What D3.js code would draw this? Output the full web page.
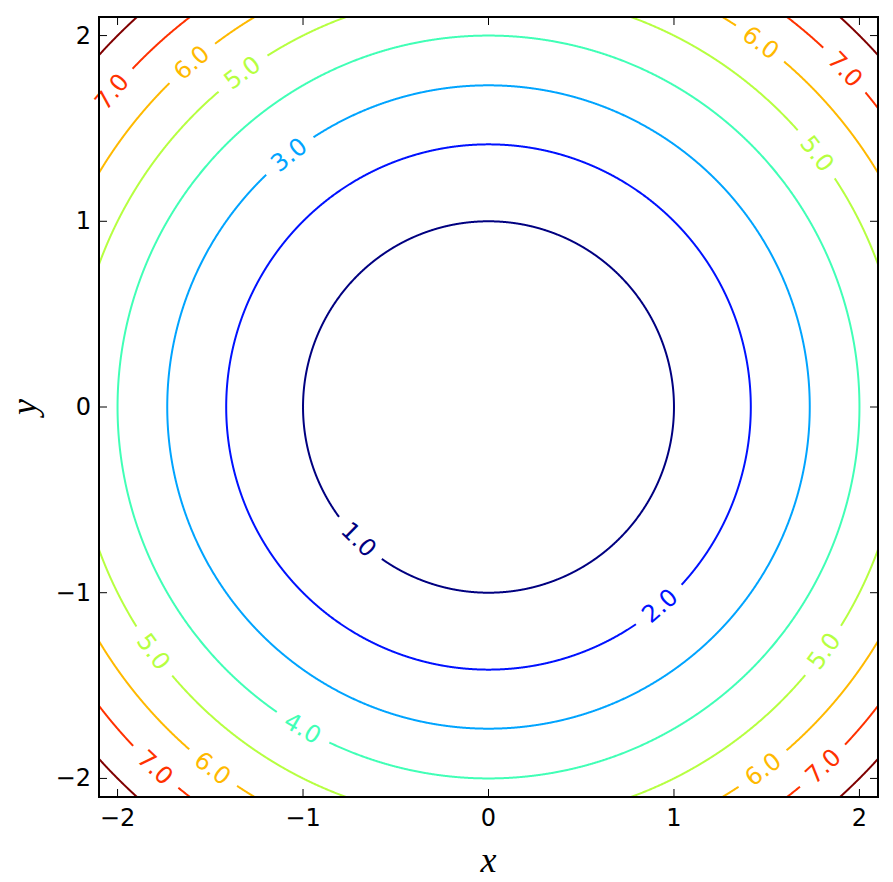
<!DOCTYPE html>
<html><head><meta charset="utf-8">
<script src="https://cdn.jsdelivr.net/npm/d3@7"></script>
<style>body{margin:0;background:#fff}</style>
</head><body>
<svg id="chart" width="893" height="882"></svg>
<script>
// ---- data ----
const levels = [1, 2, 3, 4, 5, 6, 7, 8];            // contour levels of z = x^2 + y^2
const labelLevels = [1, 2, 3, 4, 5, 5, 5, 5, 6, 6, 6, 6, 7, 7, 7, 7];
const labelAngles = [225.6, -49.2, 128.4, 239.9, 126.4, 37.6, 216.1, -36, 130.8, 53.2, 232.6, -52.8, 140.1, 43.4, 227.2, -47]; // degrees
const xTicks = [-2, -1, 0, 1, 2];
const yTicks = [-2, -1, 0, 1, 2];
const domain = [-2.1, 2.1];

// ---- layout ----
const svg = d3.select("#chart");
const L = 99, R = 878, T = 17, B = 797;
const x = d3.scaleLinear().domain(domain).range([L, R]);
const y = d3.scaleLinear().domain(domain).range([B, T]);

// jet colormap
const jet = (t) => {
  const interp = (pts) => d3.scaleLinear().domain(pts.map(p => p[0])).range(pts.map(p => p[1])).clamp(true)(t);
  const r = interp([[0, 0], [0.35, 0], [0.66, 1], [0.89, 1], [1, 0.5]]);
  const g = interp([[0, 0], [0.125, 0], [0.375, 1], [0.64, 1], [0.91, 0], [1, 0]]);
  const b = interp([[0, 0.5], [0.11, 1], [0.34, 1], [0.65, 0], [1, 0]]);
  return d3.rgb(r * 255, g * 255, b * 255).toString();
};
const norm = d3.scaleLinear().domain(d3.extent(levels)).range([0, 1]);
const color = (lv) => jet(norm(lv));

svg.append("defs").append("clipPath").attr("id", "clip")
  .append("rect").attr("x", L).attr("y", T).attr("width", R - L).attr("height", B - T);

const pxPerUnit = x(1) - x(0);
const gapPx = 60;
const line = d3.line().x(d => x(d[0])).y(d => y(d[1]));

const g = svg.append("g").attr("clip-path", "url(#clip)");
levels.forEach(lv => {
  const rad = Math.sqrt(lv);
  const half = (gapPx / 2) / (rad * pxPerUnit) * 180 / Math.PI;
  const gaps = labelAngles.filter((a, i) => labelLevels[i] === lv).map(a => ((a % 360) + 360) % 360);
  // build runs of angles excluding gaps
  const runs = [];
  let cur = [];
  for (let k = 0; k <= 3600; k++) {
    const a = k / 10;
    const inGap = gaps.some(c => {
      let d = Math.abs(a - c) % 360; if (d > 180) d = 360 - d; return d < half;
    });
    if (inGap) { if (cur.length > 1) runs.push(cur); cur = []; }
    else cur.push([rad * Math.cos(a * Math.PI / 180), rad * Math.sin(a * Math.PI / 180)]);
  }
  if (cur.length > 1) runs.push(cur);
  runs.forEach(run => {
    g.append("path").attr("d", line(run)).attr("fill", "none")
      .attr("stroke", color(lv)).attr("stroke-width", 2);
  });
});

// contour labels
labelAngles.forEach((a, i) => {
  const lv = labelLevels[i];
  const rad = Math.sqrt(lv);
  const th = a * Math.PI / 180;
  const px = x(rad * Math.cos(th)), py = y(rad * Math.sin(th));
  let rot = Math.atan2(-Math.cos(th), -Math.sin(th)) * 180 / Math.PI;
  if (rot > 90) rot -= 180; if (rot <= -90) rot += 180;
  svg.append("text").attr("transform", `translate(${px},${py}) rotate(${rot})`)
    .attr("text-anchor", "middle").attr("dominant-baseline", "central")
    .attr("font-family", "DejaVu Sans").attr("font-size", 24)
    .attr("fill", color(lv)).text(d3.format(".1f")(lv));
});

// frame
svg.append("rect").attr("x", L).attr("y", T).attr("width", R - L).attr("height", B - T)
  .attr("fill", "none").attr("stroke", "#000").attr("stroke-width", 2);

const fmt = d => (d < 0 ? "\u2212" : "") + Math.abs(d);
// ticks (inward, all sides)
const tk = svg.append("g").attr("stroke", "#000").attr("stroke-width", 1);
xTicks.forEach(t => {
  tk.append("line").attr("x1", x(t)).attr("x2", x(t)).attr("y1", B).attr("y2", B - 8);
  tk.append("line").attr("x1", x(t)).attr("x2", x(t)).attr("y1", T).attr("y2", T + 8);
});
yTicks.forEach(t => {
  tk.append("line").attr("y1", y(t)).attr("y2", y(t)).attr("x1", L).attr("x2", L + 8);
  tk.append("line").attr("y1", y(t)).attr("y2", y(t)).attr("x1", R).attr("x2", R - 8);
});
svg.append("g").selectAll("text").data(xTicks).join("text")
  .attr("x", d => x(d)).attr("y", 826).attr("text-anchor", "middle")
  .attr("font-family", "DejaVu Sans").attr("font-size", 24).text(fmt);
svg.append("g").selectAll("text").data(yTicks).join("text")
  .attr("x", 91).attr("y", d => y(d)).attr("text-anchor", "end").attr("dominant-baseline", "central")
  .attr("font-family", "DejaVu Sans").attr("font-size", 24).text(fmt);

// axis labels
svg.append("text").attr("x", (L + R) / 2).attr("y", 872).attr("text-anchor", "middle")
  .attr("font-family", "Liberation Serif").attr("font-style", "italic").attr("font-size", 36).text("x");
svg.append("text").attr("transform", `translate(36,${(T + B) / 2}) rotate(-90)`).attr("text-anchor", "middle")
  .attr("font-family", "Liberation Serif").attr("font-style", "italic").attr("font-size", 36).text("y");
</script>
</body></html>
